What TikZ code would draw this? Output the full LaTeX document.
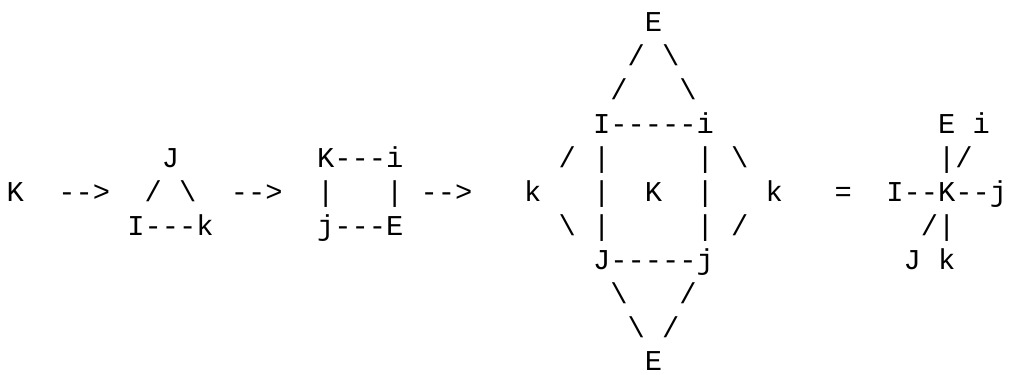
\documentclass[tikz,border=0pt]{standalone}
\usepackage{fontspec}
\newfontfamily\asciimono{Liberation Mono}
\tikzset{asc/.style={inner sep=0pt, anchor=base west, font={\asciimono\fontsize{28.75}{34}\selectfont}, text=black}}
\newcommand\putat[4]{\node[asc] (#1) at ({6.4+17.25*#2},{343-33.9*#3}) {#4};}
\newcommand\bs{\textbackslash}
\begin{document}
\begin{tikzpicture}[x=1pt,y=1pt]
\useasboundingbox (0,0) rectangle (1010,375);
% row 0
\putat{Etop}{37}{0}{E}
% row 1
\putat{r1a}{36}{1}{/}
\putat{r1b}{38}{1}{\bs}
% row 2
\putat{r2a}{35}{2}{/}
\putat{r2b}{39}{2}{\bs}
% row 3
\putat{Ii}{34}{3}{I-----i}
\putat{sE}{54}{3}{E}
\putat{si}{56}{3}{i}
% row 4
\putat{tJ}{9}{4}{J}
\putat{Ki}{18}{4}{K---i}
\putat{r4a}{32}{4}{/}
\putat{r4b}{34}{4}{|}
\putat{r4c}{40}{4}{|}
\putat{r4d}{42}{4}{\bs}
\putat{r4e}{54}{4}{|/}
% row 5
\putat{K0}{0}{5}{K}
\putat{ar1}{3}{5}{-{}->}
\putat{r5a}{8}{5}{/}
\putat{r5b}{10}{5}{\bs}
\putat{ar2}{13}{5}{-{}->}
\putat{r5c}{18}{5}{|}
\putat{r5d}{22}{5}{|}
\putat{ar3}{24}{5}{-{}->}
\putat{kl}{30}{5}{k}
\putat{r5e}{34}{5}{|}
\putat{Kc}{37}{5}{K}
\putat{r5f}{40}{5}{|}
\putat{kr}{44}{5}{k}
\putat{eq}{48}{5}{=}
\putat{IKj}{51}{5}{I-{}-K-{}-j}
% row 6
\putat{Ik}{7}{6}{I-{}-{}-k}
\putat{jE}{18}{6}{j-{}-{}-E}
\putat{r6a}{32}{6}{\bs}
\putat{r6b}{34}{6}{|}
\putat{r6c}{40}{6}{|}
\putat{r6d}{42}{6}{/}
\putat{r6e}{53}{6}{/|}
% row 7
\putat{Jj}{34}{7}{J-{}-{}-{}-{}-j}
\putat{sJ}{52}{7}{J}
\putat{sk}{54}{7}{k}
% row 8
\putat{r8a}{35}{8}{\bs}
\putat{r8b}{39}{8}{/}
% row 9
\putat{r9a}{36}{9}{\bs}
\putat{r9b}{38}{9}{/}
% row 10
\putat{Ebot}{37}{10}{E}
\end{tikzpicture}
\end{document}
